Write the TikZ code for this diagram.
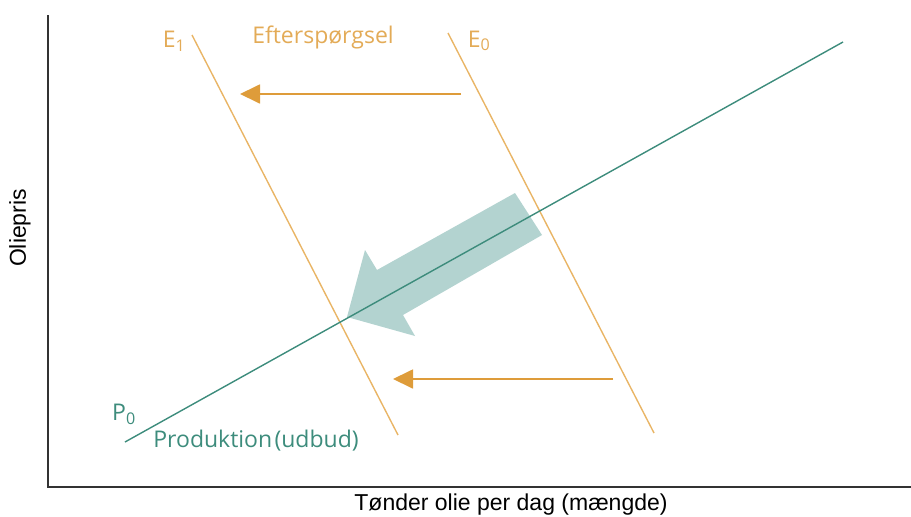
\documentclass[tikz,border=0pt]{standalone}
\usepackage{fontspec}
\setmainfont{Open Sans}
\newfontfamily\axisfont{Liberation Sans}
\usetikzlibrary{arrows.meta}
\definecolor{demand}{HTML}{E9B566}
\definecolor{demandarrow}{HTML}{DE9C3A}
\definecolor{supply}{HTML}{3D8C7C}
\definecolor{bigarrow}{HTML}{B3D3D0}
\definecolor{axiscol}{HTML}{333333}
\tikzset{
  axisline/.style={draw=axiscol, line width=2pt},
  demandline/.style={draw=demand, line width=1.4pt},
  supplyline/.style={draw=supply, line width=1.4pt},
  shiftarrow/.style={draw=demandarrow, line width=1.8pt, -{Triangle[length=20pt,width=19pt]}},
  demandlabel/.style={text=demandarrow!85!white, font=\fontsize{23}{25}\selectfont, inner sep=0pt},
  supplylabel/.style={text=supply, font=\fontsize{23}{25}\selectfont, inner sep=0pt},
  axislabel/.style={text=black, font=\axisfont\fontsize{23}{25}\selectfont, inner sep=0pt}
}
\begin{document}
\begin{tikzpicture}[x=1pt,y=-1pt]
\useasboundingbox (0,0) rectangle (911,517);
% axes
\coordinate (ytop) at (48,15);
\coordinate (origin) at (48,487);
\coordinate (xend) at (911,487);
\draw[axisline] (ytop) -- (origin) -- (xend);
% big arrow
\fill[bigarrow] (515,193) -- (542,235) -- (403,315) -- (415,336) -- (347,317) -- (365,250) -- (377,270) -- cycle;
% demand lines
\coordinate (e1top) at (192,35);
\coordinate (e1bot) at (398,435);
\coordinate (e0top) at (448,33);
\coordinate (e0bot) at (654,433);
\draw[demandline] (e1top) -- (e1bot);
\draw[demandline] (e0top) -- (e0bot);
% supply line
\coordinate (pstart) at (125,442);
\coordinate (pend) at (843,42);
\draw[supplyline] (pstart) -- (pend);
% shift arrows
\coordinate (a1s) at (461,94);
\coordinate (a1e) at (240,94);
\coordinate (a2s) at (613,379);
\coordinate (a2e) at (393,379);
\draw[shiftarrow] (a1s) -- (a1e);
\draw[shiftarrow] (a2s) -- (a2e);
% labels
\node[demandlabel] (le1) at (174,41) {E\textsubscript{1}};
\node[demandlabel] (leo) at (479,41) {E\textsubscript{0}};
\node[demandlabel] (lef) at (323,37) {Efterspørgsel};
\node[supplylabel] (lp0) at (124,414) {P\textsubscript{0}};
\node[supplylabel] (lprod) at (256,441) {Produktion\hspace{0.1em}(udbud)};
\node[axislabel, rotate=90] (lyax) at (20,228) {Oliepris};
\node[axislabel] (lxax) at (511,505) {Tønder olie per dag (mængde)};
\end{tikzpicture}
\end{document}
